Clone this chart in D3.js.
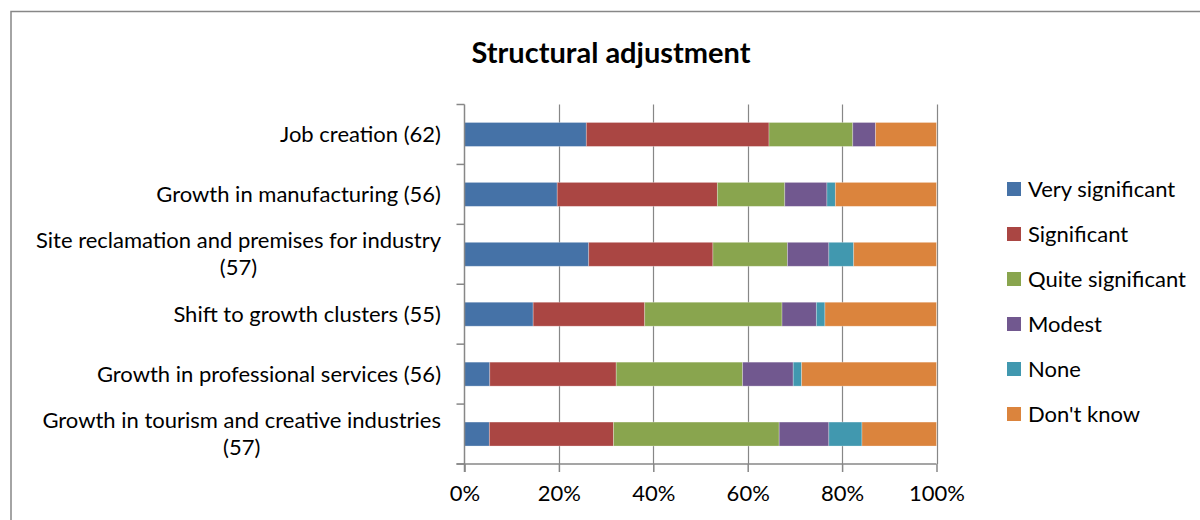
<!DOCTYPE html>
<html>
<head>
<meta charset="utf-8">
<script src="https://cdn.jsdelivr.net/npm/d3@7"></script>
<style>
  html, body { margin: 0; padding: 0; background: #fff; }
  svg { display: block; font-family: Lato, "Open Sans", sans-serif; }
</style>
</head>
<body>
<svg id="chart" width="1200" height="520"></svg>
<script>
// Survey categories (respondent counts in brackets), top to bottom
const categories = [
  ["Job creation (62)"],
  ["Growth in manufacturing (56)"],
  ["Site reclamation and premises for industry", "(57)"],
  ["Shift to growth clusters (55)"],
  ["Growth in professional services (56)"],
  ["Growth in tourism and creative industries", "(57)"]
];

// Response levels (stack order, left to right)
const responses = ["Very significant", "Significant", "Quite significant", "Modest", "None", "Don't know"];

// Number of respondents per category for each response level
const verySignificant  = [16, 11, 15,  8,  3,  3];
const significant      = [24, 19, 15, 13, 15, 15];
const quiteSignificant = [11,  8,  9, 16, 15, 20];
const modest           = [ 3,  5,  5,  4,  6,  6];
const none             = [ 0,  1,  3,  1,  1,  4];
const dontKnow         = [ 8, 12, 10, 13, 16,  9];

const tickValues = [0, 0.2, 0.4, 0.6, 0.8, 1.0];
const colors = ["#4572A7", "#AA4643", "#89A54E", "#71588F", "#4198AF", "#DB843D"];

const seriesValues = [verySignificant, significant, quiteSignificant, modest, none, dontKnow];
const rows = categories.map((c, i) => {
  const r = { key: i };
  responses.forEach((name, j) => { r[name] = seriesValues[j][i]; });
  return r;
});

const stack = d3.stack().keys(responses).offset(d3.stackOffsetExpand);
const layers = stack(rows);

const svg = d3.select("#chart");
const axisColor = "#878787";
const fontSize = 22;

// Chart frame
svg.append("rect")
  .attr("x", 11).attr("y", 11.5)
  .attr("width", 1200).attr("height", 520)
  .attr("fill", "none").attr("stroke", axisColor).attr("stroke-width", 1.5);

// Title
svg.append("text")
  .attr("x", 611).attr("y", 63)
  .attr("text-anchor", "middle")
  .attr("font-size", 29).attr("font-weight", "bold")
  .attr("fill", "#000")
  .text("Structural adjustment");

const plot = { left: 464.5, right: 936.5, top: 104.5, bottom: 464 };

const x = d3.scaleLinear().domain([0, 1]).range([plot.left, plot.right]);
const y = d3.scaleBand().domain(d3.range(categories.length))
  .range([plot.top, plot.bottom]).paddingInner(0.6).paddingOuter(0.3);

// Vertical gridlines
svg.append("g")
  .selectAll("line")
  .data(tickValues.slice(1))
  .join("line")
  .attr("x1", d => Math.round(x(d)) + 0.5).attr("x2", d => Math.round(x(d)) + 0.5)
  .attr("y1", plot.top).attr("y2", plot.bottom)
  .attr("stroke", axisColor).attr("stroke-width", 1.2);

// Stacked bars
svg.append("g")
  .selectAll("g")
  .data(layers)
  .join("g")
  .attr("fill", (d, i) => colors[i])
  .selectAll("rect")
  .data(d => d)
  .join("rect")
  .attr("x", d => x(d[0]))
  .attr("y", (d, i) => y(i))
  .attr("width", d => Math.max(0, x(d[1]) - x(d[0])))
  .attr("height", y.bandwidth())
  .attr("stroke", "#ffffff").attr("stroke-opacity", 0.35).attr("stroke-width", 0.8);

// X axis
const xAxis = d3.axisBottom(x)
  .tickValues(tickValues)
  .tickFormat(d3.format(".0%"))
  .tickSize(8).tickSizeOuter(0).tickPadding(13);

const gx = svg.append("g")
  .attr("transform", `translate(0,${plot.bottom})`)
  .call(xAxis);
gx.select(".domain").remove();
gx.append("line")
  .attr("x1", plot.left - 8).attr("x2", plot.right)
  .attr("y1", 0).attr("y2", 0)
  .attr("stroke", axisColor).attr("stroke-width", 1.5);
gx.selectAll(".tick line").attr("stroke", axisColor).attr("stroke-width", 1.5);
gx.selectAll(".tick text")
  .attr("font-size", fontSize).attr("fill", "#000")
  .attr("font-family", "Lato, 'Open Sans', sans-serif");

// Y axis: vertical line with ticks at band boundaries
const yEdges = d3.range(categories.length + 1).map(i => plot.top + i * (plot.bottom - plot.top) / categories.length);
const gy = svg.append("g");
gy.append("line")
  .attr("x1", plot.left).attr("x2", plot.left)
  .attr("y1", plot.top).attr("y2", plot.bottom + 8)
  .attr("stroke", axisColor).attr("stroke-width", 1.5);
gy.selectAll("line.tick")
  .data(yEdges)
  .join("line")
  .attr("class", "tick")
  .attr("x1", plot.left - 8).attr("x2", plot.left)
  .attr("y1", d => d).attr("y2", d => d)
  .attr("stroke", axisColor).attr("stroke-width", 1.5);

// Category labels (right-aligned; wrapped lines centred under the first)
const lineHeight = 27;
const labelRight = 441;
const labels = svg.append("g")
  .attr("font-size", fontSize).attr("fill", "#000");
categories.forEach((lines, i) => {
  const cy = y(i) + y.bandwidth() / 2;
  const top = cy - (lines.length - 1) * lineHeight / 2;
  const first = labels.append("text")
    .attr("x", labelRight).attr("y", top).attr("dy", "0.35em")
    .attr("text-anchor", "end")
    .text(lines[0]);
  const w = first.node().getComputedTextLength();
  lines.slice(1).forEach((ln, k) => {
    labels.append("text")
      .attr("x", labelRight - w / 2).attr("y", top + (k + 1) * lineHeight).attr("dy", "0.35em")
      .attr("text-anchor", "middle")
      .text(ln);
  });
});

// Legend
const legend = svg.append("g").attr("transform", "translate(1007,189)");
const item = legend.selectAll("g")
  .data(responses)
  .join("g")
  .attr("transform", (d, i) => `translate(0,${i * 45})`);
item.append("rect")
  .attr("x", 0).attr("y", -7)
  .attr("width", 14).attr("height", 14)
  .attr("fill", (d, i) => colors[i]);
item.append("text")
  .attr("x", 21).attr("y", 0).attr("dy", "0.35em")
  .attr("font-size", fontSize).attr("fill", "#000")
  .text(d => d);
</script>
</body>
</html>
